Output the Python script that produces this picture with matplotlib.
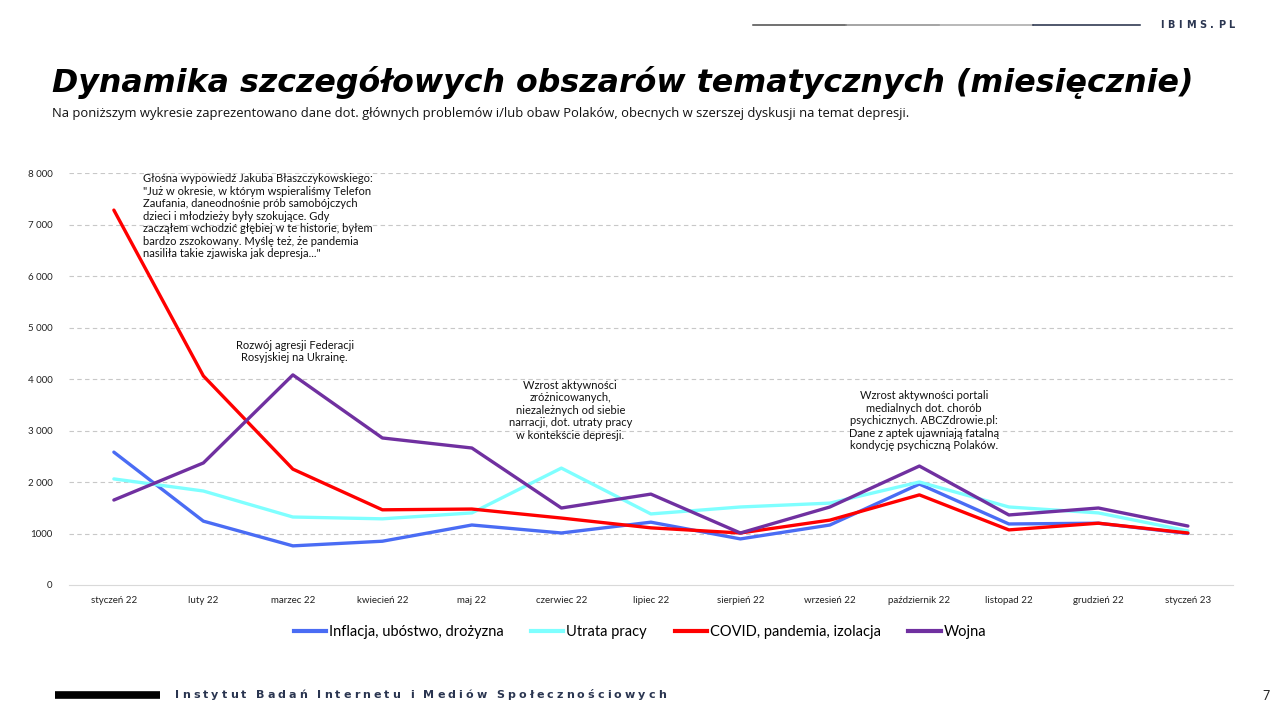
import matplotlib.pyplot as plt
from matplotlib.lines import Line2D

plt.rcParams['font.family'] = ['Lato', 'DejaVu Sans']

Miesiace = ['styczeń 22', 'luty 22', 'marzec 22', 'kwiecień 22', 'maj 22', 'czerwiec 22', 'lipiec 22',
            'sierpień 22', 'wrzesień 22', 'październik 22', 'listopad 22', 'grudzień 22', 'styczeń 23']
Inflacja = [2580, 1240, 760, 850, 1165, 1010, 1220, 895, 1165, 1960, 1185, 1200, 1000]
UtrataPracy = [2060, 1825, 1320, 1285, 1400, 2270, 1380, 1515, 1590, 2000, 1515, 1400, 1050]
Covid = [7280, 4060, 2250, 1460, 1475, 1300, 1110, 1010, 1260, 1750, 1070, 1200, 1010]
Wojna = [1650, 2370, 4080, 2855, 2660, 1495, 1765, 1010, 1515, 2310, 1360, 1495, 1145]
YTicks = [0, 1000, 2000, 3000, 4000, 5000, 6000, 7000, 8000]
YLabels = ['0', '1000', '2 000', '3 000', '4 000', '5 000', '6 000', '7 000', '8 000']

Serie = [
    ('Inflacja, ubóstwo, drożyzna', Inflacja, '#4A6CF4'),
    ('Utrata pracy', UtrataPracy, '#7FFFFF'),
    ('COVID, pandemia, izolacja', Covid, '#FF0000'),
    ('Wojna', Wojna, '#7030A0'),
]

Fig = plt.figure(figsize=(12.8, 7.2), dpi=100)
Ax = Fig.add_axes([0.054, 0.1875, 0.909, 0.5722])

X = list(range(len(Miesiace)))
for Nazwa, Wartosci, Kolor in Serie:
    Ax.plot(X, Wartosci, color=Kolor, lw=2.4, label=Nazwa, solid_capstyle='round')

Ax.set_xlim(-0.5, len(Miesiace) - 0.5)
Ax.set_ylim(0, 8000)
Ax.set_yticks(YTicks)
Ax.set_yticklabels(YLabels, fontsize=7, color='#222222')
Ax.set_xticks(X)
Ax.set_xticklabels(Miesiace, fontsize=7, color='#222222')
Ax.tick_params(length=0, pad=8)
Ax.tick_params(axis='y', pad=12)
for Y in YTicks[1:]:
    Ax.axhline(Y, color='#C8C8C8', lw=0.8, ls=(0, (4, 3)), zorder=0)
for S in ['top', 'right', 'left']:
    Ax.spines[S].set_visible(False)
Ax.spines['bottom'].set_color('#D9D9D9')

Opis = dict(fontsize=8, color='#111111', linespacing=1.17)
Ax.text(0.33, 8000, 'Głośna wypowiedź Jakuba Błaszczykowskiego:\n"Już w okresie, w którym wspieraliśmy Telefon\n'
        'Zaufania, daneodnośnie prób samobójczych\ndzieci i młodzieży były szokujące. Gdy\n'
        'zacząłem wchodzić głębiej w te historie, byłem\nbardzo zszokowany. Myślę też, że pandemia\n'
        'nasiliła takie zjawiska jak depresja..."', ha='left', va='top', **Opis)
Ax.text(2.02, 4760, 'Rozwój agresji Federacji\nRosyjskiej na Ukrainę.', ha='center', va='top', **Opis)
Ax.text(5.1, 3990, 'Wzrost aktywności\nzróżnicowanych,\nniezależnych od siebie\nnarracji, dot. utraty pracy\nw kontekście depresji.',
        ha='center', va='top', **Opis)
Ax.text(9.05, 3780, 'Wzrost aktywności portali\nmedialnych dot. chorób\npsychicznych. ABCZdrowie.pl:\n'
        'Dane z aptek ujawniają fatalną\nkondycję psychiczną Polaków.', ha='center', va='top', **Opis)

Uchwyty = [Line2D([0], [0], color=K, lw=3) for _, _, K in Serie]
Fig.legend(Uchwyty, [N for N, _, _ in Serie], loc='center', bbox_to_anchor=(0.5, 0.122), ncol=4,
           frameon=False, fontsize=10.5, handlelength=2.2, handletextpad=0.2, columnspacing=1.9)

Fig.text(0.041, 0.886, 'Dynamika szczegółowych obszarów tematycznych (miesięcznie)', family='DejaVu Sans',
         fontsize=22.8, fontweight='bold', fontstyle='oblique', ha='left', va='center', color='#000000')
Fig.text(0.041, 0.843, 'Na poniższym wykresie zaprezentowano dane dot. głównych problemów i/lub obaw Polaków, '
         'obecnych w szerszej dyskusji na temat depresji.', family='Open Sans', fontsize=9.4,
         ha='left', va='center', color='#111111')


def TekstRozstrzelony(X0, Y0, Tekst, Odstep, **Kw):
    # rysuje znak po znaku z dodatkowym odstepem (w px)
    R = Fig.canvas.get_renderer()
    Px = X0 * Fig.bbox.width
    for Znak in Tekst:
        T = Fig.text(Px / Fig.bbox.width, Y0, Znak, ha='left', va='center', **Kw)
        if Znak == ' ':
            W = Kw['fontsize'] * 100 / 72 * 0.3
        else:
            W = T.get_window_extent(R).width
        Px += W + Odstep


for X1, X2, Kolor in [(753, 846, '#4A4A4A'), (846, 939, '#8C8C8C'), (939, 1033, '#A6A6A6'), (1033, 1140, '#1F2A44')]:
    Fig.add_artist(Line2D([X1 / 1280, X2 / 1280], [0.965, 0.965], color=Kolor, lw=1.1))
TekstRozstrzelony(1160 / 1280, 0.965, 'IBIMS.PL', 3.8, fontsize=7, color='#2A3550', fontweight='bold',
                  family='DejaVu Sans')

Fig.add_artist(Line2D([0.043, 0.125], [0.035, 0.035], color='#000000', lw=5.5, solid_capstyle='butt'))
TekstRozstrzelony(175 / 1280, 0.035, 'Instytut Badań Internetu i Mediów Społecznościowych', 3.1,
                  fontsize=8, color='#2A3550', fontweight='bold', family='DejaVu Sans')
Fig.text(0.992, 0.033, '7', fontsize=9, ha='right', va='center', color='#222222')

Fig.savefig('out.png', dpi=100)
